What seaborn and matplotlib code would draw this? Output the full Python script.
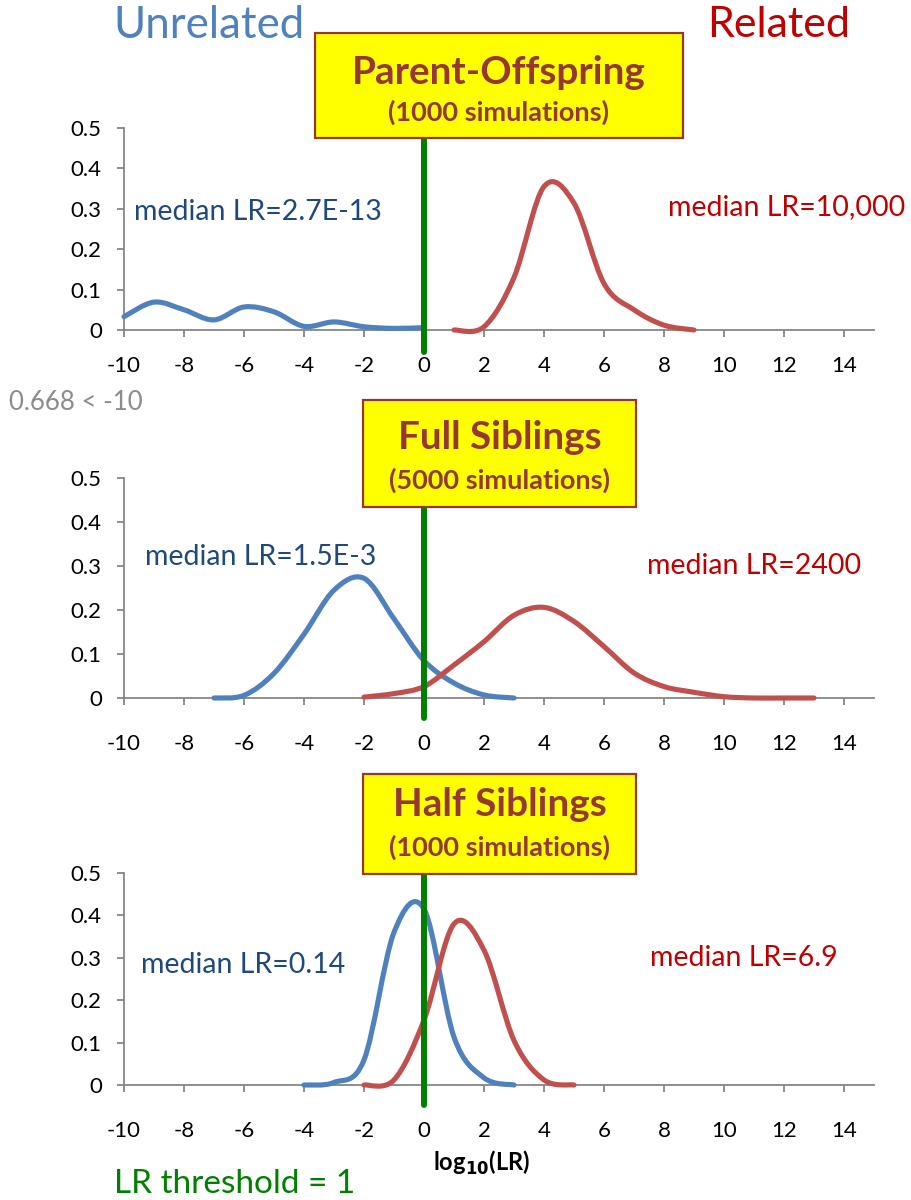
import numpy as np
import matplotlib
matplotlib.use("Agg")
import matplotlib.pyplot as plt
import seaborn as sns
from matplotlib.path import Path
from matplotlib.patches import PathPatch, Rectangle

# ---- data (log10 LR vs. frequency) ----
po_unrel_x = [-10, -9, -8, -7, -6, -5, -4, -3, -2, -1, 0]
po_unrel_y = [0.033, 0.069, 0.05, 0.025, 0.057, 0.045, 0.009, 0.02, 0.008, 0.004, 0.006]
po_rel_x = [1, 2, 3, 4, 5, 6, 7, 8, 9]
po_rel_y = [0.0, 0.008, 0.13, 0.355, 0.314, 0.115, 0.05, 0.012, 0.0]

fs_unrel_x = [-7, -6, -5, -4, -3, -2, -1, 0, 1, 2, 3]
fs_unrel_y = [0.0, 0.006, 0.056, 0.145, 0.245, 0.272, 0.18, 0.085, 0.034, 0.007, 0.0]
fs_rel_x = [-2, -1, 0, 1, 2, 3, 4, 5, 6, 7, 8, 9, 10, 11, 12, 13]
fs_rel_y = [0.002, 0.01, 0.026, 0.075, 0.128, 0.188, 0.206, 0.174, 0.117, 0.057, 0.026, 0.013, 0.003, 0.0, 0.0, 0.0]

hs_unrel_x = [-4, -3, -2, -1, 0, 1, 2, 3]
hs_unrel_y = [0.0, 0.006, 0.059, 0.36, 0.415, 0.113, 0.017, 0.0]
hs_rel_x = [-2, -1, 0, 1, 2, 3, 4, 5]
hs_rel_y = [0.0, 0.012, 0.153, 0.38, 0.318, 0.105, 0.012, 0.0]

titles = ["Parent-Offspring", "Full Siblings", "Half Siblings"]
subtitles = ["(1000 simulations)", "(5000 simulations)", "(1000 simulations)"]
unrel_medians = ["median LR=2.7E-13", "median LR=1.5E-3", "median LR=0.14"]
rel_medians = ["median LR=10,000", "median LR=2400", "median LR=6.9"]

x_ticks = list(range(-10, 15, 2))
y_ticks = [0, 0.1, 0.2, 0.3, 0.4, 0.5]
y_tick_labels = ["0", "0.1", "0.2", "0.3", "0.4", "0.5"]

BLUE = "#4F81BD"
RED = "#C0504D"
DARK_BLUE = "#1F497D"
DARK_RED = "#C00000"
BOX_EDGE = "#953735"
GREEN = "#008000"
GRAY = "#868686"

W, H = 911, 1200


def px(x, y):
    """pixel position -> figure fraction"""
    return x / W, 1 - y / H


def smooth_path(xs, ys):
    """Excel-style smoothed line through the points (cubic Bezier segments)"""
    pts = np.column_stack([xs, ys]).astype(float)
    n = len(pts)
    verts = [pts[0]]
    codes = [Path.MOVETO]
    for i in range(n - 1):
        p0 = pts[i - 1] if i > 0 else pts[i]
        p1, p2 = pts[i], pts[i + 1]
        p3 = pts[i + 2] if i + 2 < n else pts[i + 1]
        verts += [p1 + (p2 - p0) / 6, p2 - (p3 - p1) / 6, p2]
        codes += [Path.CURVE4] * 3
    return Path(verts, codes)


sns.set_theme(style="ticks")
plt.rcParams["font.family"] = ["Lato", "DejaVu Sans"]

fig = plt.figure(figsize=(W / 100, H / 100), dpi=100)

# axes boxes in pixels: (top, bottom) of the 0..0.5 range
panel_px = [(128, 330), (478, 698), (873, 1085)]
label_pad = [14, 21, 21]
green_low = [22, 20, 20]
boxes = [(315, 33, 683, 138), (363, 400, 636, 507), (363, 774, 636, 874)]
title_y = [(72, 112), (437, 480), (805, 847)]
unrel_pos = [(134, 212), (145, 557), (141, 965)]
rel_pos = [(668, 207), (647, 566), (650, 958)]

series = [
    (po_unrel_x, po_unrel_y, po_rel_x, po_rel_y),
    (fs_unrel_x, fs_unrel_y, fs_rel_x, fs_rel_y),
    (hs_unrel_x, hs_unrel_y, hs_rel_x, hs_rel_y),
]

for k in range(3):
    top, bot = panel_px[k]
    left, bottom = px(124, bot)
    ax = fig.add_axes([left, bottom, 750 / W, (bot - top) / H])
    ux, uy, rx, ry = series[k]
    for xs, ys, col in [(ux, uy, BLUE), (rx, ry, RED)]:
        ax.add_patch(PathPatch(smooth_path(xs, ys), fill=False, ec=col, lw=3.7,
                               capstyle="round", joinstyle="round", clip_on=False, zorder=3))
    ax.set_xlim(-10, 15)
    ax.set_ylim(0, 0.5)
    ax.set_xticks(x_ticks)
    ax.set_xticklabels([str(t) for t in x_ticks])
    ax.set_yticks(y_ticks)
    ax.set_yticklabels(y_tick_labels)
    sns.despine(ax=ax)
    for s in ["left", "bottom"]:
        ax.spines[s].set_color(GRAY)
        ax.spines[s].set_linewidth(1.3)
    ax.tick_params(axis="both", colors=GRAY, labelcolor="black", length=5, width=1.3,
                   labelsize=16)
    ax.tick_params(axis="x", pad=label_pad[k])
    ax.tick_params(axis="y", pad=11)
    ax.set_facecolor("none")
    ax.axvline(0, ymin=-green_low[k] / (bot - top), ymax=1.0, color=GREEN, lw=4.3,
               clip_on=False, zorder=4)

    # yellow title box
    x0, y0, x1, y1 = boxes[k]
    bl = px(x0, y1)
    fig.add_artist(Rectangle(bl, (x1 - x0) / W, (y1 - y0) / H, transform=fig.transFigure,
                             facecolor="#FFFF00", edgecolor=BOX_EDGE, lw=1.6, zorder=5))
    cx = (x0 + x1) / 2
    fig.text(*px(cx, title_y[k][0]), titles[k], ha="center", va="center", fontsize=27.8,
             fontweight="bold", color=BOX_EDGE, zorder=6)
    fig.text(*px(cx, title_y[k][1]), subtitles[k], ha="center", va="center", fontsize=19.5,
             fontweight="bold", color=BOX_EDGE, zorder=6)

    fig.text(*px(*unrel_pos[k]), unrel_medians[k], ha="left", va="center", fontsize=20.5,
             color=DARK_BLUE)
    fig.text(*px(*rel_pos[k]), rel_medians[k], ha="left", va="center", fontsize=20.5,
             color=DARK_RED)

fig.text(*px(113, 25), "Unrelated", ha="left", va="center", fontsize=31.5, color=BLUE)
fig.text(*px(707, 25), "Related", ha="left", va="center", fontsize=31, color=DARK_RED)
fig.text(*px(9, 402), "0.668 < -10", ha="left", va="center", fontsize=18.5, color="#8C8C8C")
fig.text(*px(482, 1163), r"log$_{\mathbf{10}}$(LR)", ha="center", va="center", fontsize=17,
         fontweight="bold", color="black")
fig.text(*px(114, 1184), "LR threshold = 1", ha="left", va="center", fontsize=24, color=GREEN)

fig.savefig("out.png", dpi=100, facecolor="white")
